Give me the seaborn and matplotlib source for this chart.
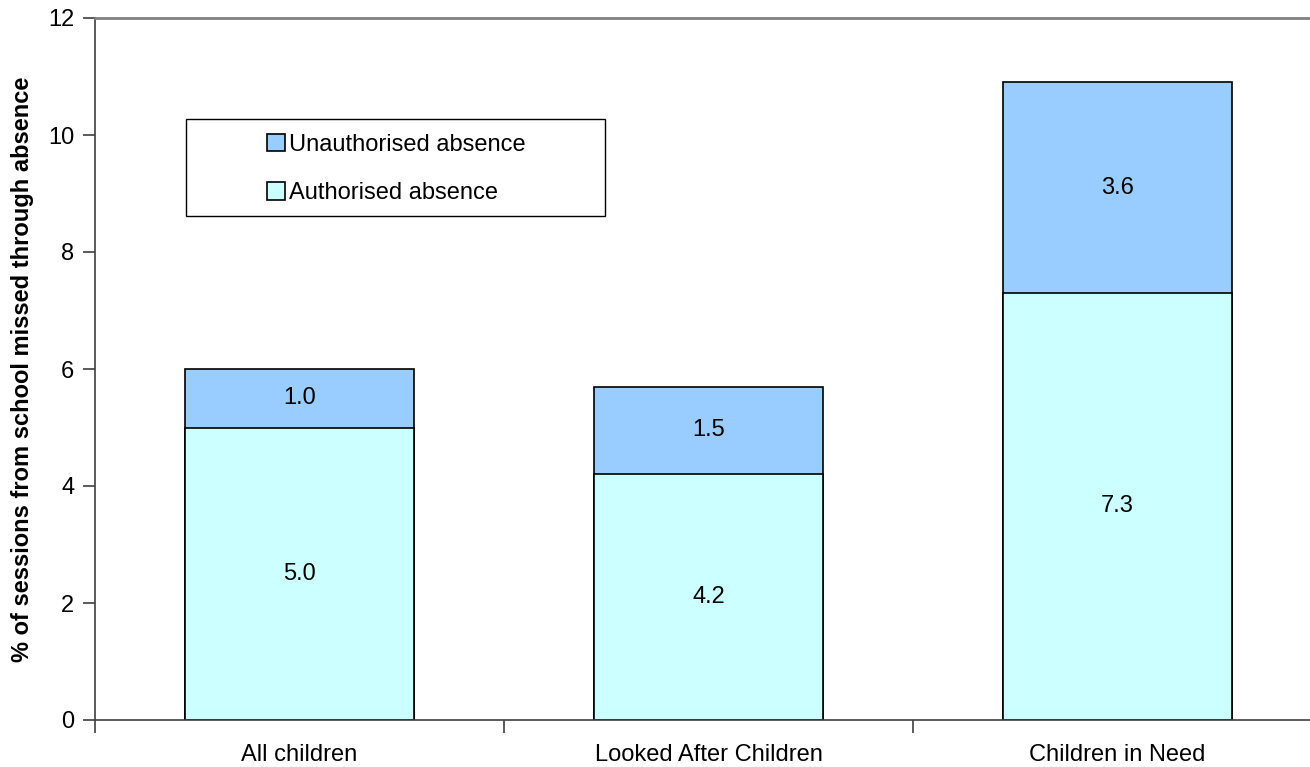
import matplotlib
matplotlib.use("Agg")
import matplotlib.pyplot as plt
import seaborn as sns
import pandas as pd
from matplotlib.patches import Rectangle
from matplotlib.ticker import FixedLocator, NullFormatter

categories = ["All children", "Looked After Children", "Children in Need"]
authorised = [5.0, 4.2, 7.3]
unauthorised = [1.0, 1.5, 3.6]
y_ticks = [0, 2, 4, 6, 8, 10, 12]

sns.set_theme(style="white")
plt.rcParams["font.family"] = ["Liberation Sans", "DejaVu Sans"]
plt.rcParams["text.color"] = "black"
plt.rcParams["xtick.color"] = "black"
plt.rcParams["ytick.color"] = "black"
plt.rcParams["axes.labelcolor"] = "black"

FS = 17

df = pd.DataFrame({
    "category": categories,
    "authorised": authorised,
    "unauthorised": unauthorised,
})
df["total"] = df["authorised"] + df["unauthorised"]

fig = plt.figure(figsize=(13.10, 7.67), dpi=100)
ax = fig.add_axes([95 / 1310, 47 / 767, 1227 / 1310, 702 / 767])

bar_w = 0.558
# Stacked bars: full height in the unauthorised colour, authorised drawn over it
sns.barplot(data=df, x="category", y="total", color="#99CCFF", width=bar_w,
            edgecolor="black", linewidth=1.2, saturation=1, ax=ax,
            label="Unauthorised absence")
sns.barplot(data=df, x="category", y="authorised", color="#CCFFFF", width=bar_w,
            edgecolor="black", linewidth=1.2, saturation=1, ax=ax,
            label="Authorised absence")

# Value labels centred in each segment
for i, row in df.iterrows():
    ax.text(i, row["authorised"] / 2, f"{row['authorised']:.1f}",
            ha="center", va="center", fontsize=FS)
    ax.text(i, row["authorised"] + row["unauthorised"] / 2, f"{row['unauthorised']:.1f}",
            ha="center", va="center", fontsize=FS)

ax.set_xlim(-0.5, 2.5)
ax.set_ylim(0, 12)
ax.set_yticks(y_ticks)
ax.set_yticklabels([str(t) for t in y_ticks], fontsize=FS)
ax.tick_params(axis="y", direction="out", length=9, width=1.2, color="#404040",
               labelcolor="black", pad=6, left=True)

# Category labels centred, tick marks on the category boundaries
ax.set_xticks(range(len(categories)))
ax.set_xticklabels(categories, fontsize=FS)
ax.tick_params(axis="x", which="major", length=0, pad=17, labelcolor="black")
ax.xaxis.set_minor_locator(FixedLocator([-0.5, 0.5, 1.5, 2.5]))
ax.xaxis.set_minor_formatter(NullFormatter())
ax.tick_params(axis="x", which="minor", direction="out", length=9, width=1.2,
               color="#404040", bottom=True)

ax.set_xlabel("")
ax.set_ylabel("% of sessions from school missed through absence",
              fontsize=FS, fontweight="bold", labelpad=10)

for side in ["left", "bottom"]:
    ax.spines[side].set_color("#404040")
    ax.spines[side].set_linewidth(1.2)
ax.spines["top"].set_color("#808080")
ax.spines["top"].set_linewidth(2)
ax.spines["right"].set_visible(False)

# Legend box with the entries centred inside it
ax.add_patch(Rectangle((0.0742, 0.718), 0.3415, 0.138, transform=ax.transAxes,
                       facecolor="white", edgecolor="black", linewidth=1.0,
                       zorder=4))
handles, labels = ax.get_legend_handles_labels()
leg = ax.legend(handles, labels, loc="center", bbox_to_anchor=(0.2457, 0.785),
                fontsize=FS, frameon=False,
                handlelength=0.76, handleheight=0.76, handletextpad=0.2,
                labelspacing=1.12, borderpad=0, borderaxespad=0)
leg.set_zorder(5)

fig.savefig("out.png", dpi=100)
